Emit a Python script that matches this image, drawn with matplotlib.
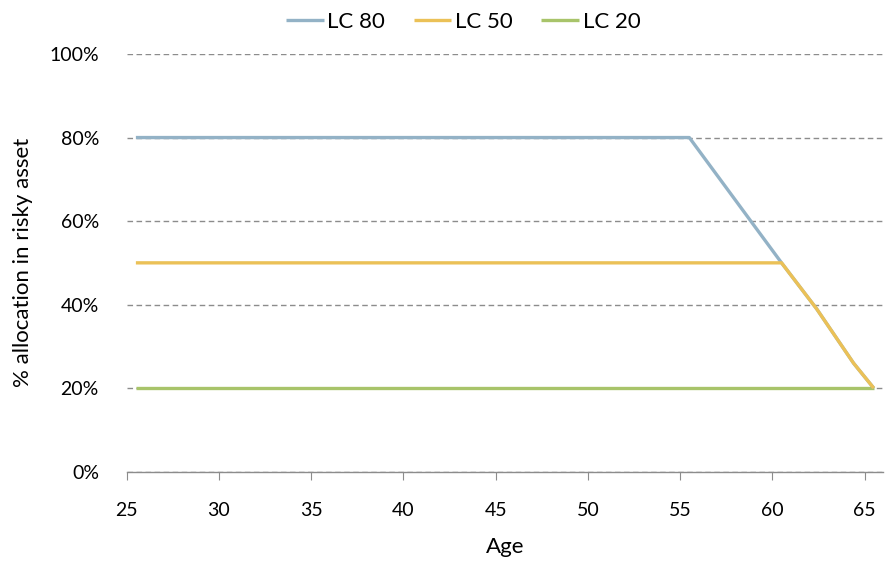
import matplotlib.pyplot as plt
from matplotlib.ticker import FuncFormatter

# datos (edad vs % en activo con riesgo)
edades = [25.5, 55.5, 57.5, 60.5, 62.4, 64.4, 65.5]
lc80 = [80, 80, 68, 50, 39, 26, 20]
lc50 = [50, 50, 50, 50, 39, 26, 20]
lc20 = [20, 20, 20, 20, 20, 20, 20]

nombres = ["LC 80", "LC 50", "LC 20"]
colores = ["#93B2C6", "#EBC157", "#A8C46A"]

plt.rcParams["font.family"] = ["Lato", "DejaVu Sans"]

fig = plt.figure(figsize=(8.87, 5.62), dpi=100)
ax = fig.add_axes([0.1428, 0.1607, 0.8527, 0.7432])

l20, = ax.plot(edades, lc20, color=colores[2], lw=2.4, zorder=3, solid_capstyle="butt")
l80, = ax.plot(edades, lc80, color=colores[0], lw=2.4, zorder=4, solid_capstyle="butt")
l50, = ax.plot(edades, lc50, color=colores[1], lw=2.4, zorder=5, solid_capstyle="butt")

ax.set_xlim(25, 66)
ax.set_ylim(0, 100)
ax.set_xticks(range(25, 66, 5))
ax.set_yticks(range(0, 101, 20))
ax.yaxis.set_major_formatter(FuncFormatter(lambda v, p: f"{v:.0f}%"))

# lineas de cuadricula discontinuas
ax.grid(axis="y", color="#8C8C8C", linestyle=(0, (4, 2.5)), lw=1.0)
ax.set_axisbelow(True)

for lado in ["top", "right", "left"]:
    ax.spines[lado].set_visible(False)
ax.spines["bottom"].set_color("#8C8C8C")
ax.spines["bottom"].set_linewidth(1.0)

ax.tick_params(axis="x", length=6, color="#8C8C8C", pad=16, labelsize=14)
ax.tick_params(axis="y", length=0, pad=20, labelsize=14)

ax.set_xlabel("Age", fontsize=16, labelpad=13)
ax.set_ylabel("% allocation in risky asset", fontsize=16, labelpad=12)

fig.legend([l80, l50, l20], nombres, loc="upper center", bbox_to_anchor=(0.522, 1.015),
           ncol=3, frameon=False, fontsize=16, handlelength=1.7, handletextpad=0.15,
           columnspacing=1.3)

fig.savefig("out.png", dpi=100)
